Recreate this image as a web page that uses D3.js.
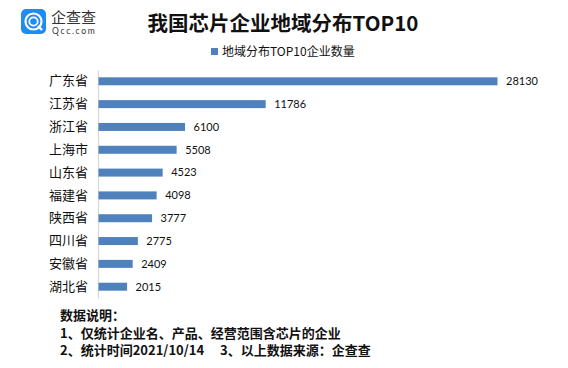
<!DOCTYPE html>
<html>
<head>
<meta charset="utf-8">
<script src="https://cdn.jsdelivr.net/npm/d3@7"></script>
<style>
  body { margin: 0; background: #fff; }
  svg { display: block; font-family: "Noto Sans CJK SC", sans-serif; }
</style>
</head>
<body>
<div class="chart"></div>
<script>
const provinces = ["广东省", "江苏省", "浙江省", "上海市", "山东省", "福建省", "陕西省", "四川省", "安徽省", "湖北省"];
const counts = [28130, 11786, 6100, 5508, 4523, 4098, 3777, 2775, 2409, 2015];
const seriesName = "地域分布TOP10企业数量";
const notes = ["数据说明：", "1、仅统计企业名、产品、经营范围含芯片的企业", "2、统计时间2021/10/14　 3、以上数据来源：企查查"];

const svg = d3.select(".chart").append("svg")
    .attr("width", 568)
    .attr("height", 368);

// logo
const logo = svg.append("g").attr("transform", "translate(21,9)");
logo.append("rect").attr("width", 25).attr("height", 25).attr("rx", 5).attr("fill", "#1e8cf0");
logo.append("circle").attr("cx", 12.5).attr("cy", 12.5).attr("r", 8).attr("fill", "none").attr("stroke", "#fff").attr("stroke-width", 2.2);
logo.append("circle").attr("cx", 12.5).attr("cy", 12.5).attr("r", 4.2).attr("fill", "none").attr("stroke", "#fff").attr("stroke-width", 1.8);
logo.append("line").attr("x1", 17).attr("y1", 17).attr("x2", 21).attr("y2", 21).attr("stroke", "#fff").attr("stroke-width", 2.4);
svg.append("text").attr("x", 51).attr("y", 23).attr("font-size", 15).attr("fill", "#333").text("企查查");
svg.append("text").attr("x", 52).attr("y", 34).attr("font-size", 8.5).attr("letter-spacing", 1.7)
    .attr("font-family", "Lato, sans-serif").attr("fill", "#333").text("Qcc.com");

// title
svg.append("text").attr("x", 283).attr("y", 31).attr("text-anchor", "middle")
    .attr("font-size", 20.5).attr("font-weight", "bold").attr("fill", "#111")
    .text("我国芯片企业地域分布TOP10");

// legend
svg.append("rect").attr("x", 211).attr("y", 48).attr("width", 7).attr("height", 7).attr("fill", "#4f81bd");
svg.append("text").attr("x", 222).attr("y", 56).attr("font-size", 12).attr("fill", "#111").text(seriesName);

const x = d3.scaleLinear().domain([0, 28130]).range([98, 497]);
const y = d3.scaleBand().domain(provinces).range([70, 298]).paddingInner(0.65).paddingOuter(0.32);

svg.append("g")
    .attr("transform", "translate(98,0)")
    .call(d3.axisLeft(y).tickSize(0).tickPadding(10))
    .call(g => g.select(".domain").attr("stroke", "#d9d9d9").attr("stroke-width", 1.3))
    .call(g => g.selectAll("text").attr("font-size", 13).attr("fill", "#111")
        .attr("font-family", "'Noto Sans CJK SC', sans-serif"));

const data = provinces.map((p, i) => ({ p, v: counts[i] }));

svg.selectAll(".bar").data(data).join("rect")
    .attr("class", "bar")
    .attr("x", x(0) + 0.5)
    .attr("y", d => y(d.p))
    .attr("width", d => x(d.v) - x(0))
    .attr("height", y.bandwidth())
    .attr("fill", "#4f81bd");

svg.selectAll(".val").data(data).join("text")
    .attr("class", "val")
    .attr("x", d => x(d.v) + 9)
    .attr("y", d => y(d.p) + y.bandwidth() / 2)
    .attr("dy", "0.35em")
    .attr("font-size", 11)
    .attr("font-family", "Lato, sans-serif")
    .attr("fill", "#111")
    .text(d => d.v);

// footer notes
svg.selectAll(".note").data(notes).join("text")
    .attr("class", "note")
    .attr("x", 60)
    .attr("y", (d, i) => 320 + i * 17.5)
    .attr("font-size", 13)
    .attr("font-weight", "bold")
    .attr("fill", "#111")
    .text(d => d);
</script>
</body>
</html>
